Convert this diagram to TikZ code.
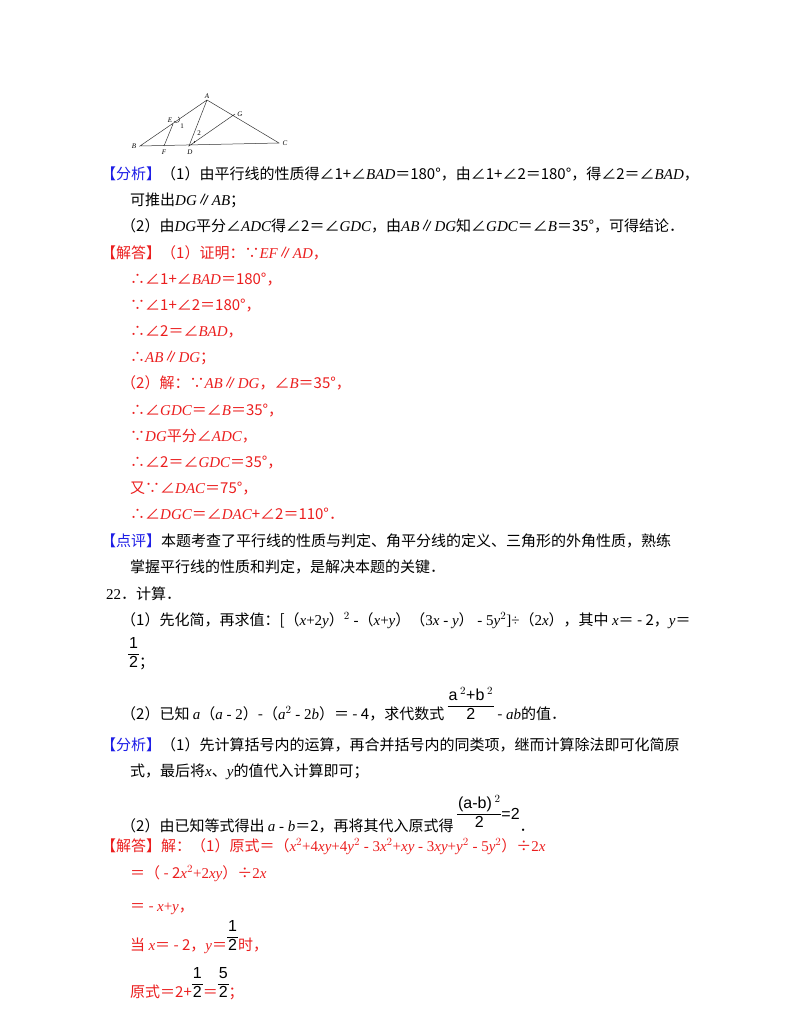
\documentclass[tikz,border=0pt]{standalone}
\usepackage{amsmath}
\usepackage{fontspec}
\setmainfont{Noto Sans CJK SC}
\newfontfamily\lat{Liberation Serif}
\newfontfamily\ari{Liberation Sans}
\newcommand{\mi}[1]{{\lat\itshape #1}}
\newcommand{\mr}[1]{{\lat #1}}
\newcommand{\fr}[2]{{\ari\fontsize{16}{17}\selectfont\renewcommand{\arraystretch}{1.05}\setlength{\tabcolsep}{1pt}\begin{tabular}[b]{c}#1\\\hline #2\end{tabular}}}
\definecolor{rd}{RGB}{235,30,30}
\definecolor{bl}{RGB}{30,30,230}
\tikzset{ln/.style={anchor=base west,inner sep=0pt,font=\fontsize{15}{17}\selectfont},
 rl/.style={ln,text=rd},geo/.style={line width=0.5pt,gray!40!black},
 lb/.style={inner sep=0pt,font=\lat\itshape\fontsize{7}{8}\selectfont}}
\begin{document}
\begin{tikzpicture}[x=1pt,y=-1pt]
\useasboundingbox (0,0) rectangle (800,1035);
% figure
\coordinate (A) at (207,100); \coordinate (B) at (140,146); \coordinate (C) at (279,143);
\coordinate (D) at (189,146); \coordinate (G) at (235,114); \coordinate (E) at (173,124); \coordinate (F) at (164,146);
\draw[geo] (A)--(B)--(C)--cycle (A)--(D)--(G) (E)--(F);
\draw[geo] ([shift={(1,-3)}]E) arc[start angle=150,end angle=-60,radius=3];
\draw[geo] ([shift={(5,-5)}]D) arc[start angle=-20,end angle=20,radius=3];
\node[lb] at (207,96) {A}; \node[lb] at (134,146) {B}; \node[lb] at (285,143) {C};
\node[lb] at (190,152) {D}; \node[lb] at (240,114) {G}; \node[lb] at (170,120) {E};
\node[lb] at (164,152) {F}; \node[lb,font=\lat\fontsize{7}{8}\selectfont] at (182,126) {1};
\node[lb,font=\lat\fontsize{7}{8}\selectfont] at (199,133) {2};
% text
\node[ln] at (101,179) {\textcolor{bl}{【分析】}（1）由平行线的性质得∠1+∠\mi{BAD}＝180°，由∠1+∠2＝180°，得∠2＝∠\mi{BAD}，};
\node[ln] at (130,205) {可推出\mi{DG}∥\mi{AB}；};
\node[ln] at (121,231) {（2）由\mi{DG}平分∠\mi{ADC}得∠2＝∠\mi{GDC}，由\mi{AB}∥\mi{DG}知∠\mi{GDC}＝∠\mi{B}＝35°，可得结论．};
\node[rl] at (101,258) {【解答】（1）证明：∵\mi{EF}∥\mi{AD}，};
\node[rl] at (130,284) {∴∠1+∠\mi{BAD}＝180°，};
\node[rl] at (130,310) {∵∠1+∠2＝180°，};
\node[rl] at (130,336) {∴∠2＝∠\mi{BAD}，};
\node[rl] at (130,362) {∴\mi{AB}∥\mi{DG}；};
\node[rl] at (121,388) {（2）解：∵\mi{AB}∥\mi{DG}，∠\mi{B}＝35°，};
\node[rl] at (130,415) {∴∠\mi{GDC}＝∠\mi{B}＝35°，};
\node[rl] at (130,441) {∵\mi{DG}平分∠\mi{ADC}，};
\node[rl] at (130,467) {∴∠2＝∠\mi{GDC}＝35°，};
\node[rl] at (130,493) {又∵∠\mi{DAC}＝75°，};
\node[rl] at (130,519) {∴∠\mi{DGC}＝∠\mi{DAC}+∠2＝110°．};
\node[ln] at (101,546) {\textcolor{bl}{【点评】}本题考查了平行线的性质与判定、角平分线的定义、三角形的外角性质，熟练};
\node[ln] at (130,572) {掌握平行线的性质和判定，是解决本题的关键．};
\node[ln] at (106,599) {\mr{22}．计算．};
\node[ln] at (121,625) {（1）先化简，再求值：[（\mi{x}\mr{+2}\mi{y}）\mr{$^2$ -}（\mi{x}\mr{+}\mi{y}）（\mr{3}\mi{x}\mr{ - }\mi{y}）\mr{ - 5}\mi{y}\mr{$^2$]÷}（\mr{2}\mi{x}），其中 \mi{x}＝ - 2，\mi{y}＝};
\node[ln] at (128,667) {\fr{1}{2}；};
\node[ln] at (121,719) {（2）已知 \mi{a}（\mi{a}\mr{ - 2}）-（\mi{a}\mr{$^2$ - 2}\mi{b}）＝ - 4，求代数式 \fr{a\,$^2$+b\,$^2$}{2} - \mi{ab}的值．};
\node[ln] at (101,750) {\textcolor{bl}{【分析】}（1）先计算括号内的运算，再合并括号内的同类项，继而计算除法即可化简原};
\node[ln] at (130,776) {式，最后将\mi{x}、\mi{y}的值代入计算即可；};
\node[ln] at (121,831) {（2）由已知等式得出 \mi{a}\mr{ - }\mi{b}＝2，再将其代入原式得 \raisebox{4pt}{\fr{(a-b)\,$^2$}{2}}\raisebox{12pt}{\ari\fontsize{16}{17}\selectfont =2}．};
\node[rl] at (101,851) {【解答】解：（1）原式＝（\mi{x}\mr{$^2$+4}\mi{xy}\mr{+4}\mi{y}\mr{$^2$ - 3}\mi{x}\mr{$^2$+}\mi{xy}\mr{ - 3}\mi{xy}\mr{+}\mi{y}\mr{$^2$ - 5}\mi{y}\mr{$^2$}）÷\mr{2}\mi{x}};
\node[rl] at (130,878) {＝（ - 2\mi{x}\mr{$^2$+2}\mi{xy}）÷\mr{2}\mi{x}};
\node[rl] at (130,911) {＝ - \mi{x}\mr{+}\mi{y}，};
\node[rl] at (130,950) {当 \mi{x}＝ - 2，\mi{y}＝\textcolor{black}{\fr{1}{2}}时，};
\node[rl] at (130,997) {原式＝2+\textcolor{black}{\fr{1}{2}}＝\textcolor{black}{\fr{5}{2}}；};
\end{tikzpicture}
\end{document}
